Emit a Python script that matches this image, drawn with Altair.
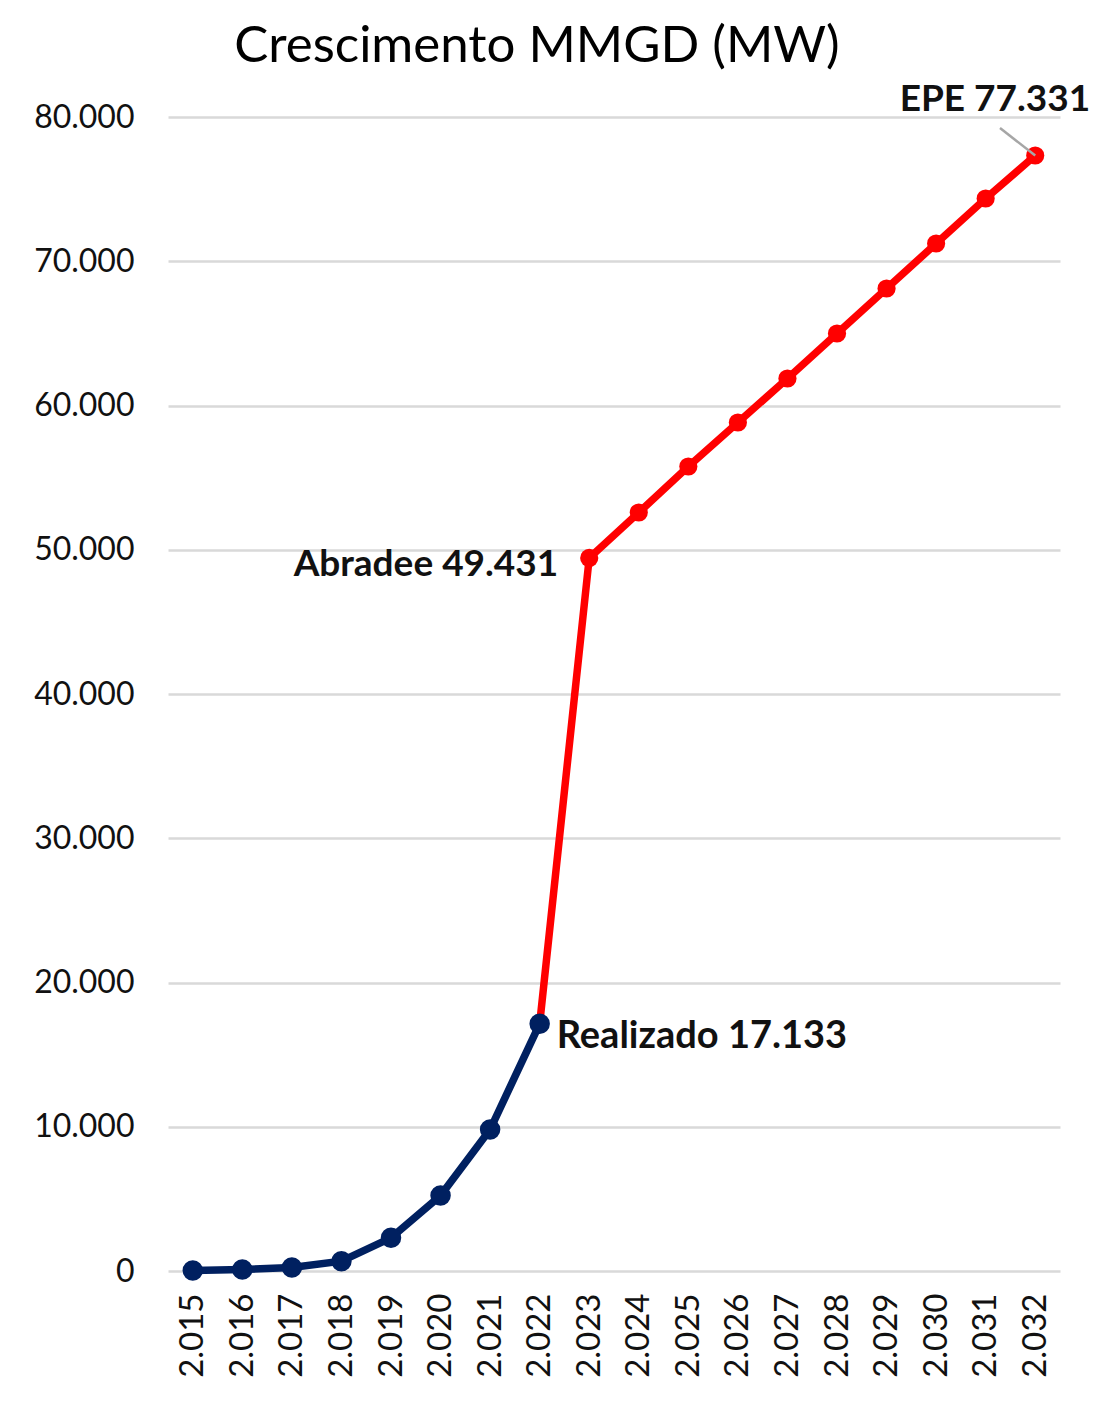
import altair as alt
import pandas as pd

years = ["2.015", "2.016", "2.017", "2.018", "2.019", "2.020", "2.021", "2.022",
         "2.023", "2.024", "2.025", "2.026", "2.027", "2.028", "2.029", "2.030",
         "2.031", "2.032"]

realizado_years = years[:8]
realizado_vals = [30, 100, 250, 680, 2300, 5230, 9810, 17133]

projecao_years = years[7:]
projecao_vals = [17133, 49431, 52580, 55770, 58820, 61870, 64990, 68110, 71230, 74350, 77331]

ann_years = ["2.022", "2.023", "2.032"]
ann_vals = [17133, 49431, 77331]
ann_text = ["Realizado 17.133", "Abradee 49.431", "EPE 77.331"]

FONT = "Lato"
NAVY = "#002060"
RED = "#FF0000"

df_r = pd.DataFrame({"ano": realizado_years, "mw": realizado_vals})
df_p = pd.DataFrame({"ano": projecao_years, "mw": projecao_vals})

x = alt.X("ano:O", sort=years, title=None,
          scale=alt.Scale(type="point", padding=0.5, domain=years),
          axis=alt.Axis(labelAngle=-90, labelFontSize=33, labelFont=FONT,
                        labelColor="#111111", ticks=False, domain=False,
                        labelPadding=22, grid=False))
y = alt.Y("mw:Q", title=None,
          scale=alt.Scale(domain=[0, 80000], nice=False),
          axis=alt.Axis(values=list(range(0, 80001, 10000)), labelFontSize=32,
                        labelFont=FONT, labelColor="#111111", ticks=False,
                        domain=False, labelPadding=34, gridColor="#D9D9D9",
                        gridWidth=2.5,
                        labelExpr="replace(format(datum.value, ','), ',', '.')"))

base_r = alt.Chart(df_r).encode(x=x, y=y)
base_p = alt.Chart(df_p).encode(x=x, y=y)

red_line = base_p.mark_line(color=RED, strokeWidth=7.5)
red_pts = base_p.mark_circle(color=RED, size=330, opacity=1)
navy_line = base_r.mark_line(color=NAVY, strokeWidth=7.5)
navy_pts = base_r.mark_circle(color=NAVY, size=420, opacity=1)

df_a = pd.DataFrame({"ano": ann_years, "mw": ann_vals, "t": ann_text})

def ann(i, align, dx, dy, size=37):
    d = df_a.iloc[[i]]
    return alt.Chart(d).mark_text(font=FONT, fontWeight="bold", fontSize=size,
                                  color="#111111", align=align, baseline="middle",
                                  dx=dx, dy=dy).encode(x=x, y=y, text="t:N")

a_real = ann(0, "left", 17, 13, 38)
a_abr = ann(1, "right", -31, 7)
a_epe = ann(2, "right", 55, -56)

leader = alt.Chart(df_a.iloc[[2]]).mark_rule(color="#A6A6A6", strokeWidth=2.5).encode(
    x=x, y=y, x2=alt.value(832), y2=alt.value(11))

title = alt.Chart(pd.DataFrame({"t": ["Crescimento MMGD (MW)"]})).mark_text(
    font=FONT, fontSize=51, color="#000000", align="center", baseline="alphabetic"
).encode(x=alt.value(369), y=alt.value(-55), text="t:N")

chart = alt.layer(
    red_line, red_pts, navy_line, navy_pts, leader, a_real, a_abr, a_epe, title
).properties(
    width=892, height=1154,
    autosize=alt.AutoSizeParams(type="none"),
    padding={"left": 160, "top": 109, "right": 36, "bottom": 122},
).configure(background="white").configure_view(strokeWidth=0, stroke="transparent")

chart.save("out.html", embed_options={"renderer": "svg", "actions": False})
